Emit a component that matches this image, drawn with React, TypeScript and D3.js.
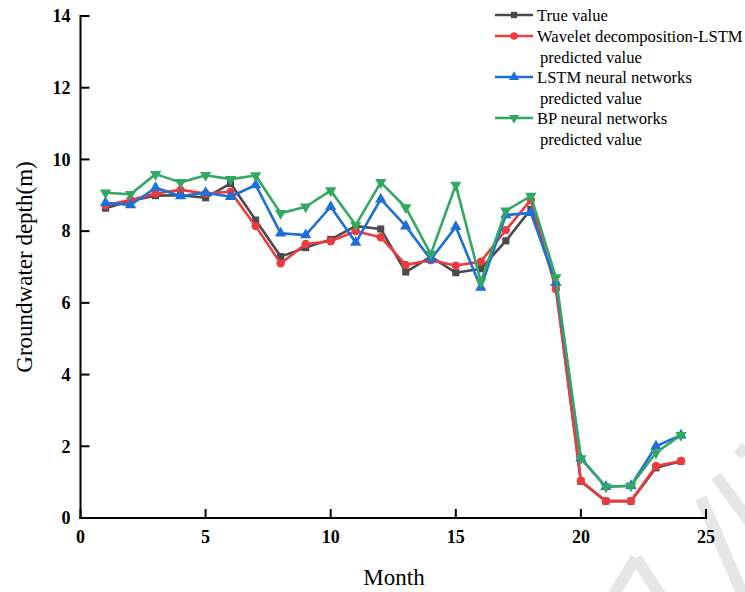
import React, { useEffect, useRef } from "react";
import * as d3 from "d3";

const months = [1, 2, 3, 4, 5, 6, 7, 8, 9, 10, 11, 12, 13, 14, 15, 16, 17, 18, 19, 20, 21, 22, 23, 24];
const trueValue = [8.64, 8.85, 8.99, 9.0, 8.93, 9.33, 8.31, 7.29, 7.54, 7.77, 8.14, 8.06, 6.86, 7.29, 6.84, 6.95, 7.73, 8.61, 6.5, 1.02, 0.47, 0.47, 1.4, 1.58];
const waveletLSTM = [8.72, 8.87, 9.05, 9.15, 9.05, 9.1, 8.14, 7.1, 7.64, 7.72, 8.0, 7.83, 7.06, 7.19, 7.04, 7.15, 8.03, 8.87, 6.38, 1.04, 0.47, 0.47, 1.45, 1.59];
const lstmNN = [8.79, 8.73, 9.21, 8.98, 9.07, 8.96, 9.29, 7.94, 7.89, 8.68, 7.68, 8.89, 8.14, 7.21, 8.12, 6.43, 8.45, 8.51, 6.56, 1.66, 0.87, 0.9, 2.0, 2.31];
const bpNN = [9.07, 9.03, 9.59, 9.36, 9.56, 9.45, 9.55, 8.5, 8.68, 9.13, 8.17, 9.36, 8.66, 7.36, 9.29, 6.59, 8.57, 8.98, 6.71, 1.66, 0.87, 0.9, 1.82, 2.31];
const xTicks = [0, 5, 10, 15, 20, 25];
const yTicks = [0, 2, 4, 6, 8, 10, 12, 14];
const legendLabels = [
  ["True value"],
  ["Wavelet decomposition-LSTM", "predicted value"],
  ["LSTM neural networks", "predicted value"],
  ["BP neural networks", "predicted value"],
];

const W = 745;
const H = 592;
const FONT = "'Liberation Serif', 'Times New Roman', serif";

function band(p1: [number, number], p2: [number, number], w: number) {
  const dx = p2[0] - p1[0];
  const dy = p2[1] - p1[1];
  const len = Math.hypot(dx, dy);
  const nx = (-dy / len) * (w / 2);
  const ny = (dx / len) * (w / 2);
  return [
    [p1[0] + nx, p1[1] + ny],
    [p2[0] + nx, p2[1] + ny],
    [p2[0] - nx, p2[1] - ny],
    [p1[0] - nx, p1[1] - ny],
  ]
    .map((p) => p.join(","))
    .join(" ");
}

export default function App() {
  const ref = useRef<SVGSVGElement>(null);

  useEffect(() => {
    const svg = d3.select(ref.current);
    svg.selectAll("*").remove();

    // watermark stripes
    const wm = svg.append("g").attr("fill", "#e6e6e6");
    wm.append("polygon").attr("points", band([701, 498], [745, 600], 12));
    wm.append("polygon").attr("points", band([716, 476], [750, 522], 12));
    wm.append("polygon").attr("points", band([745, 446], [738, 456], 10));
    wm.append("polygon").attr("points", band([636, 558], [662, 598], 12));
    wm.append("polygon").attr("points", band([636, 558], [612, 598], 12));

    const x = d3.scaleLinear().domain([0, 25]).range([80.5, 706]);
    const y = d3.scaleLinear().domain([0, 14]).range([518, 16]);

    const series = [
      { values: trueValue, color: "#4a4a4a", symbol: d3.symbolSquare, rot: 0, size: 50 },
      { values: waveletLSTM, color: "#ec3b3f", symbol: d3.symbolCircle, rot: 0, size: 55 },
      { values: lstmNN, color: "#1f6fdb", symbol: d3.symbolTriangle, rot: 0, size: 55 },
      { values: bpNN, color: "#33a862", symbol: d3.symbolTriangle, rot: 180, size: 55 },
    ];

    const line = d3
      .line<number>()
      .x((_, i) => x(months[i]))
      .y((d) => y(d));

    series.forEach((s) => {
      const g = svg.append("g");
      g.append("path")
        .attr("d", line(s.values) as string)
        .attr("fill", "none")
        .attr("stroke", s.color)
        .attr("stroke-width", 2.6)
        .attr("stroke-linejoin", "round");
      const sym = d3.symbol().type(s.symbol).size(s.size);
      g.selectAll("path.m")
        .data(s.values)
        .enter()
        .append("path")
        .attr("class", "m")
        .attr("d", sym() as string)
        .attr("transform", (d, i) => `translate(${x(months[i])},${y(d)}) rotate(${s.rot})`)
        .attr("fill", s.color);
    });

    // axes
    const axG = svg.append("g").attr("stroke", "#000").attr("stroke-width", 2);
    axG.append("line").attr("x1", x(0)).attr("x2", x(0)).attr("y1", y(14) - 1).attr("y2", y(0) + 1);
    axG.append("line").attr("x1", x(0) - 1).attr("x2", x(25) + 1).attr("y1", y(0)).attr("y2", y(0));
    yTicks.forEach((t) => {
      axG.append("line").attr("x1", x(0)).attr("x2", x(0) + 9).attr("y1", y(t)).attr("y2", y(t));
      svg
        .append("text")
        .attr("x", x(0) - 10)
        .attr("y", y(t))
        .attr("dy", "0.35em")
        .attr("text-anchor", "end")
        .attr("font-family", FONT)
        .attr("font-weight", "bold")
        .attr("font-size", 18)
        .text(String(t));
    });
    xTicks.forEach((t) => {
      axG.append("line").attr("x1", x(t)).attr("x2", x(t)).attr("y1", y(0)).attr("y2", y(0) - 9);
      svg
        .append("text")
        .attr("x", x(t))
        .attr("y", y(0) + 25)
        .attr("text-anchor", "middle")
        .attr("font-family", FONT)
        .attr("font-weight", "bold")
        .attr("font-size", 18)
        .text(String(t));
    });

    svg
      .append("text")
      .attr("x", 394)
      .attr("y", 585)
      .attr("text-anchor", "middle")
      .attr("font-family", FONT)
      .attr("font-size", 23)
      .text("Month");
    svg
      .append("text")
      .attr("transform", "translate(32,267) rotate(-90)")
      .attr("text-anchor", "middle")
      .attr("font-family", FONT)
      .attr("font-size", 23)
      .text("Groundwater depth(m)");

    // legend
    const rowY = [15, 36, 77, 118];
    series.forEach((s, i) => {
      const cy = rowY[i];
      svg
        .append("line")
        .attr("x1", 495)
        .attr("x2", 533)
        .attr("y1", cy)
        .attr("y2", cy)
        .attr("stroke", s.color)
        .attr("stroke-width", 2.6);
      svg
        .append("path")
        .attr("d", d3.symbol().type(s.symbol).size(s.size * 0.8)() as string)
        .attr("transform", `translate(514,${cy}) rotate(${s.rot})`)
        .attr("fill", s.color);
      legendLabels[i].forEach((lbl, j) => {
        svg
          .append("text")
          .attr("x", j === 0 ? 537 : 540)
          .attr("y", cy + j * 21)
          .attr("dy", "0.35em")
          .attr("font-family", FONT)
          .attr("font-size", 16.6)
          .text(lbl);
      });
    });
  }, []);

  return (
    <svg
      ref={ref}
      width={W}
      height={H}
      style={{ position: "absolute", left: 0, top: 0, background: "#fff" }}
    />
  );
}
